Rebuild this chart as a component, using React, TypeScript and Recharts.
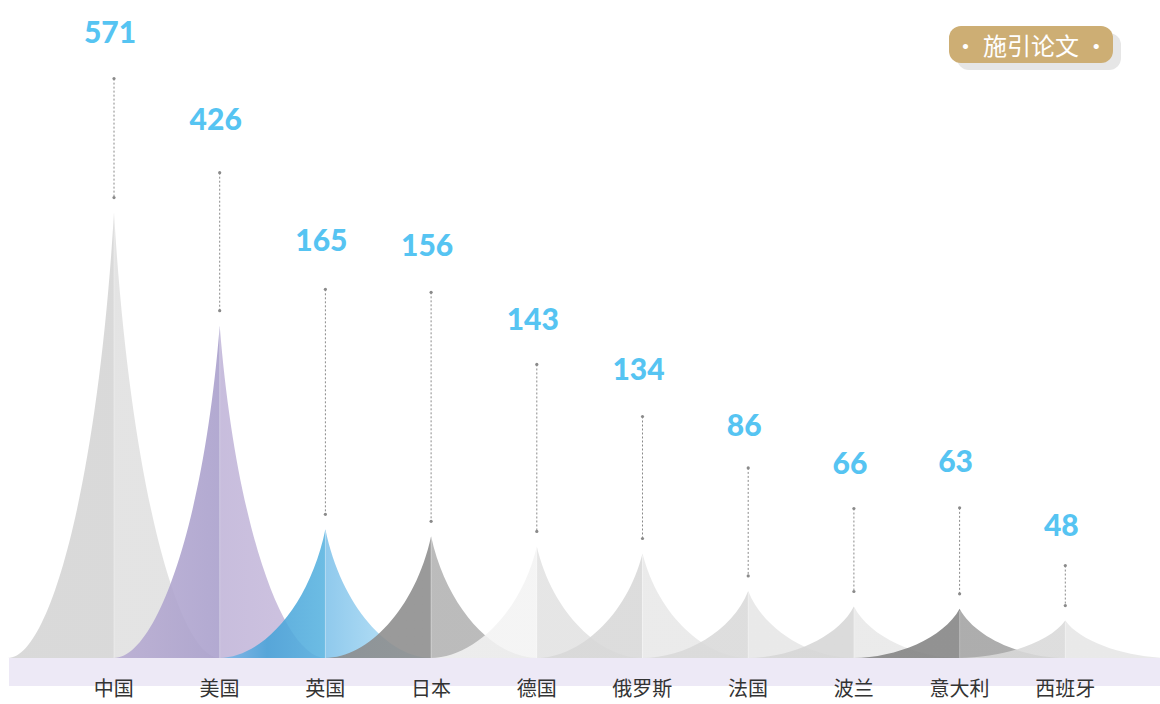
import { BarChart, Bar, XAxis, YAxis, LabelList } from "recharts";

const countries = ["中国", "美国", "英国", "日本", "德国", "俄罗斯", "法国", "波兰", "意大利", "西班牙"];
const citedPapers = [571, 426, 165, 156, 143, 134, 86, 66, 63, 48];
const legendLabel = "施引论文";

const data = countries.map((name, i) => ({ name, value: citedPapers[i] }));

// left half / right half colours of every peak
const leftStops = [
    [["#d4d4d4", 0], ["#d4d4d4", 1]],
    [["#b7abd2", 0], ["#a89ecb", 1]],
    [["#80b8ea", 0], ["#47a2d8", 0.45], ["#58b3e0", 1]],
    [["#8c8c8c", 0], ["#8c8c8c", 1]],
    [["#f3f3f3", 0], ["#f3f3f3", 1]],
    [["#d8d8d8", 0], ["#d8d8d8", 1]],
    [["#d9d9d9", 0], ["#d9d9d9", 1]],
    [["#d6d6d6", 0], ["#d6d6d6", 1]],
    [["#838383", 0], ["#838383", 1]],
    [["#d9d9d9", 0], ["#d9d9d9", 1]],
] as [string, number][][];
const rightStops = [
    [["#e0e0e0", 0], ["#e0e0e0", 1]],
    [["#c0b4d8", 0], ["#c9bcdd", 1]],
    [["#80c2ea", 0], ["#c2e8fa", 1]],
    [["#b2b2b2", 0], ["#b2b2b2", 1]],
    [["#e2e2e2", 0], ["#e2e2e2", 1]],
    [["#e8e8e8", 0], ["#e8e8e8", 1]],
    [["#e6e6e6", 0], ["#e6e6e6", 1]],
    [["#e8e8e8", 0], ["#e8e8e8", 1]],
    [["#a2a2a2", 0], ["#a2a2a2", 1]],
    [["#e6e6e6", 0], ["#e6e6e6", 1]],
] as [string, number][][];

// how far the number sits above its peak, and the gap below it to the leader (px)
const labelLift = [182, 208, 290, 292, 228, 185, 167, 145, 149, 97];
const leaderGap = [48, 55, 50, 48, 46, 48, 44, 47, 48, 42];

const Peak = (props: any) => {
    const { x, y, width, height, index } = props;
    if (!height) return null;
    const cx = x + width / 2;
    const hw = width;
    const base = y + height;
    const H = height;
    const px = (w: number) => cx - w * hw;
    const qx = (w: number) => cx + w * hw;
    const py = (h: number) => base - h * H;
    const d =
        `M${px(1)},${base} C${px(0.6)},${py(0)} ${px(0.15)},${py(0.4)} ${cx},${y} ` +
        `C${qx(0.15)},${py(0.4)} ${qx(0.6)},${py(0)} ${qx(1)},${base} Z`;
    return (
        <g>
            <path d={d} fill={`url(#peak-${index})`} fillOpacity={0.88} />
            <line x1={cx} x2={cx} y1={y + 2} y2={base} stroke="#ffffff" strokeOpacity={0.35} />
        </g>
    );
};

const ValueLabel = (props: any) => {
    const { x, y, width, value, index } = props;
    const cx = x + width / 2;
    const ly = y - labelLift[index];
    const top = ly + leaderGap[index];
    const bottom = y - 15;
    return (
        <g>
            <text
                x={cx - 4}
                y={ly}
                dominantBaseline="central"
                textAnchor="middle"
                fill="#56c4f2"
                fontSize={30}
                fontWeight={900}
                fontFamily="Lato"
            >
                {value}
            </text>
            <line x1={cx} x2={cx} y1={top} y2={bottom} stroke="#8a8a8a" strokeDasharray="2 2" />
            <circle cx={cx} cy={top} r={1.6} fill="#8a8a8a" />
            <circle cx={cx} cy={bottom} r={1.6} fill="#8a8a8a" />
        </g>
    );
};

const CountryTick = (props: any) => {
    const { x, y, payload } = props;
    return (
        <text
            x={x}
            y={y + 30}
            textAnchor="middle"
            fill="#333333"
            fontSize={20}
            fontFamily="Noto Sans CJK SC"
        >
            {payload.value}
        </text>
    );
};

export default function App() {
    return (
        <div style={{ position: "fixed", top: 0, left: 0, width: 1160, height: 704, background: "#ffffff" }}>
            <div
                style={{
                    position: "absolute",
                    left: 9,
                    top: 658,
                    width: 1151,
                    height: 28,
                    background: "#ede9f6",
                }}
            />
            <div
                style={{
                    position: "absolute",
                    left: 957,
                    top: 33,
                    width: 164,
                    height: 37,
                    borderRadius: 12,
                    background: "#e6e6e6",
                }}
            />
            <div
                style={{
                    position: "absolute",
                    left: 949,
                    top: 26,
                    width: 164,
                    height: 37,
                    borderRadius: 12,
                    background: "#cdae74",
                    color: "#ffffff",
                    fontFamily: "Noto Sans CJK SC",
                    fontSize: 24,
                    lineHeight: "37px",
                    textAlign: "center",
                    whiteSpace: "pre",
                }}
            >
                {`· ${legendLabel} ·`}
            </div>
            <div style={{ position: "absolute", left: 0, top: 0 }}>
                <BarChart
                    width={1160}
                    height={704}
                    data={data}
                    margin={{ top: 190, right: 42, left: 61, bottom: 0 }}
                    barCategoryGap="0%"
                >
                    <defs>
                        {citedPapers.map((_, i) => (
                            <linearGradient key={i} id={`peak-${i}`} x1="0" y1="0" x2="1" y2="0">
                                {leftStops[i].map(([c, o], k) => (
                                    <stop key={`l${k}`} offset={`${o * 50}%`} stopColor={c} />
                                ))}
                                {rightStops[i].map(([c, o], k) => (
                                    <stop key={`r${k}`} offset={`${50 + o * 50}%`} stopColor={c} />
                                ))}
                            </linearGradient>
                        ))}
                    </defs>
                    <XAxis
                        dataKey="name"
                        axisLine={false}
                        tickLine={false}
                        height={46}
                        interval={0}
                        tick={<CountryTick />}
                    />
                    <YAxis hide domain={[0, 600]} />
                    <Bar dataKey="value" shape={<Peak />} isAnimationActive={false}>
                        <LabelList dataKey="value" content={<ValueLabel />} />
                    </Bar>
                </BarChart>
            </div>
        </div>
    );
}
